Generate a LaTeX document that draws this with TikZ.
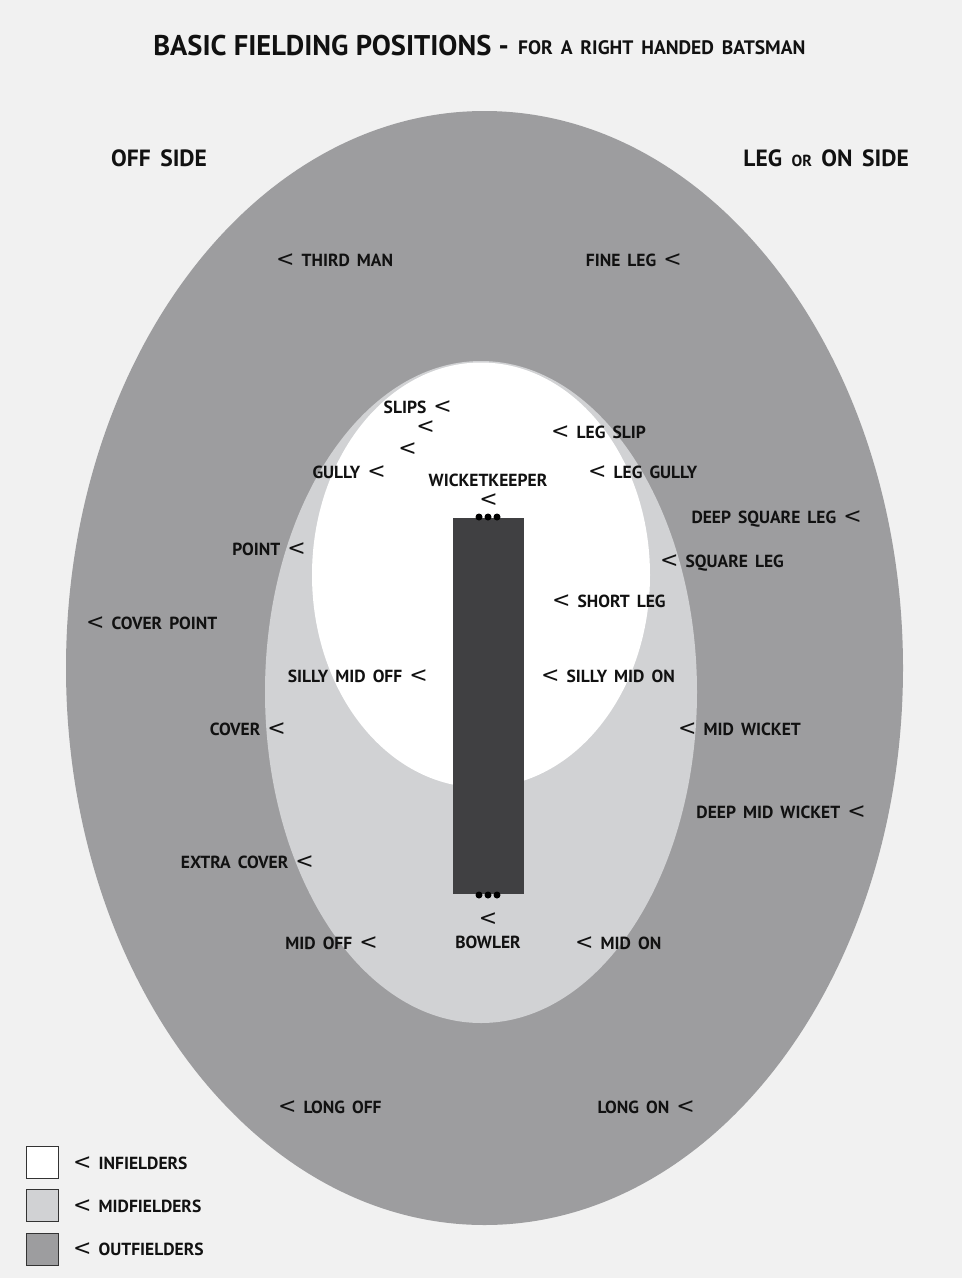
\documentclass[tikz,border=0pt]{standalone}
\usepackage{fontspec}
\setmainfont{PT Sans}[WordSpace=1.6]
\newfontfamily\titlef{PT Sans}[WordSpace=1.0]
\newfontfamily\symf{DejaVu Sans}
\definecolor{bg}{HTML}{F1F1F1}
\definecolor{outerc}{HTML}{9D9D9F}
\definecolor{midc}{HTML}{D1D2D4}
\definecolor{pitchc}{HTML}{404042}
\definecolor{ink}{HTML}{111111}
\newcommand{\ltsym}{{\symf\mdseries\fontsize{22}{22}\selectfont<}}
\tikzset{
  lbl/.style={font=\bfseries\fontsize{17.5}{20}\selectfont, inner sep=0pt, text=ink},
  lw/.style={lbl, anchor=west},
  le/.style={lbl, anchor=east},
  lc/.style={lbl, anchor=center},
  legbox/.style={draw=black!80, line width=0.8pt, minimum size=32pt, inner sep=0pt, anchor=north west},
  stump/.style={fill=black, circle, inner sep=0pt, minimum size=7pt}
}
\begin{document}
\begin{tikzpicture}[x=1pt,y=-1pt]
\fill[bg] (0,0) rectangle (962,1278);
\useasboundingbox (0,0) rectangle (962,1278);
% field
\fill[outerc] (484.5,668) ellipse [x radius=418.5pt, y radius=557pt];
\fill[midc] (481,692) ellipse [x radius=216pt, y radius=331pt];
\fill[white] (481,575) ellipse [x radius=169pt, y radius=212.5pt];
% pitch
\node[fill=pitchc, inner sep=0pt, minimum width=71pt, minimum height=376pt] (pitch) at (488.5,706) {};
\node[stump] (s1) at (479,517) {};
\node[stump] (s2) at (488,517) {};
\node[stump] (s3) at (497,517) {};
\node[stump] (b1) at (479,895) {};
\node[stump] (b2) at (488,895) {};
\node[stump] (b3) at (497,895) {};
% title
\node[lbl, anchor=east] (title) at (509,46) {\titlef\bfseries\fontsize{28.5}{32}\selectfont BASIC FIELDING POSITIONS -};
\node[lbl, anchor=west] (subtitle) at (518,48) {\fontsize{19.5}{20}\selectfont FOR A RIGHT HANDED BATSMAN};
\node[lbl, anchor=west, font=\bfseries\fontsize{23.5}{24}\selectfont] (off) at (111,158) {OFF SIDE};
\node[lbl, anchor=east, font=\bfseries\fontsize{23.5}{24}\selectfont] (leg) at (909,158) {LEG {\fontsize{16}{16}\selectfont OR} ON SIDE};
% labels
\node[lw] (thirdman) at (276,260) {\ltsym\ THIRD MAN};
\node[le] (fineleg) at (682,260) {FINE LEG \ltsym};
\node[le] (slips) at (452,407) {SLIPS \ltsym};
\node[le] (slip2) at (435,427) {\ltsym};
\node[le] (slip3) at (417,449) {\ltsym};
\node[le] (gully) at (386,472) {GULLY \ltsym};
\node[lw] (legslip) at (551,432) {\ltsym\ LEG SLIP};
\node[lw] (leggully) at (588,472) {\ltsym\ LEG GULLY};
\node[lc] (wk) at (488,480) {WICKETKEEPER};
\node[lc] (wkm) at (488.5,500) {\ltsym};
\node[le] (dsl) at (862,519) {DEEP SQUARE LEG \ltsym};
\node[le] (point) at (306,549) {POINT \ltsym};
\node[lw] (sqleg) at (660,563) {\ltsym\ SQUARE LEG};
\node[lw] (shortleg) at (552,601) {\ltsym\ SHORT LEG};
\node[lw] (coverpoint) at (86,623) {\ltsym\ COVER POINT};
\node[le] (smo) at (428,676) {SILLY MID OFF \ltsym};
\node[lw] (smon) at (541,676) {\ltsym\ SILLY MID ON};
\node[le] (cover) at (286,729) {COVER \ltsym};
\node[lw] (midwicket) at (678,729) {\ltsym\ MID WICKET};
\node[le] (dmw) at (866,812) {DEEP MID WICKET \ltsym};
\node[le] (extracover) at (314,862) {EXTRA COVER \ltsym};
\node[lc] (bowlm) at (488,919) {\ltsym};
\node[lc] (bowler) at (488,942) {BOWLER};
\node[le] (midoff) at (378,943) {MID OFF \ltsym};
\node[lw] (midon) at (575,943) {\ltsym\ MID ON};
\node[lw] (longoff) at (278,1107) {\ltsym\ LONG OFF};
\node[le] (longon) at (695,1107) {LONG ON \ltsym};
% legend
\node[legbox, fill=white] (k1) at (26,1146) {};
\node[legbox, fill=midc] (k2) at (26,1189) {};
\node[legbox, fill=outerc] (k3) at (26,1233) {};
\node[lw] (t1) at (73,1163) {\ltsym\ INFIELDERS};
\node[lw] (t2) at (73,1206) {\ltsym\ MIDFIELDERS};
\node[lw] (t3) at (73,1249) {\ltsym\ OUTFIELDERS};
\end{tikzpicture}
\end{document}
